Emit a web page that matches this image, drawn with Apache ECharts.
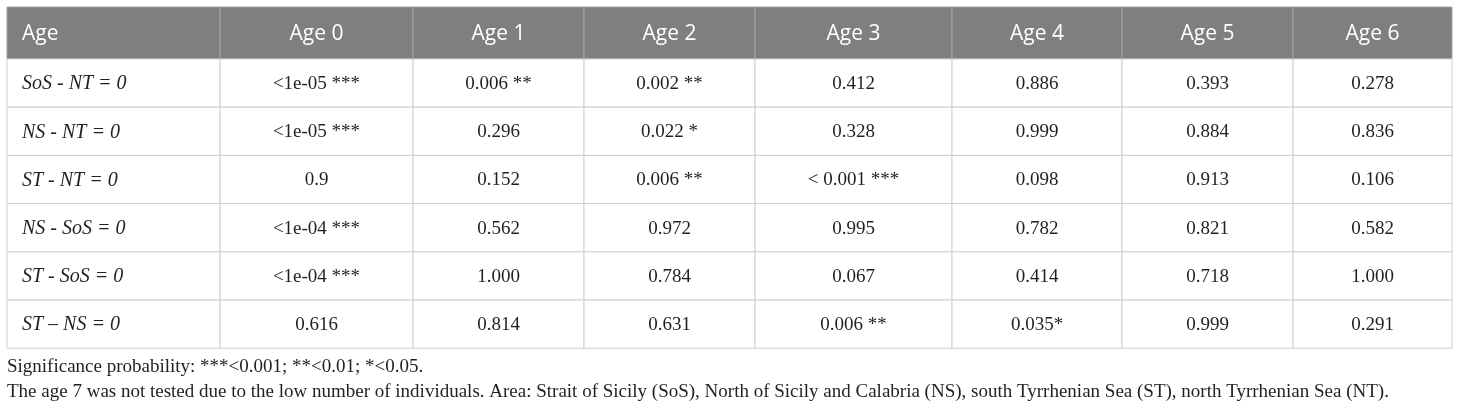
<!DOCTYPE html>
<html>
<head>
<meta charset="utf-8">
<title>Age comparison p-values</title>
<script src="https://cdn.jsdelivr.net/npm/echarts@6/dist/echarts.min.js"></script>
<style>
  html, body { margin: 0; padding: 0; background: #fff; }
  #main { width: 1460px; height: 411px; }
</style>
</head>
<body>
<div id="main"></div>
<script>
// table content
var ages = ['Age 0', 'Age 1', 'Age 2', 'Age 3', 'Age 4', 'Age 5', 'Age 6'];
var comparisons = ['SoS - NT = 0', 'NS - NT = 0', 'ST - NT = 0', 'NS - SoS = 0', 'ST - SoS = 0', 'ST \u2013 NS = 0'];
var age0 = ['<1e-05 ***', '<1e-05 ***', '0.9', '<1e-04 ***', '<1e-04 ***', '0.616'];
var age1 = ['0.006 **', '0.296', '0.152', '0.562', '1.000', '0.814'];
var age2 = ['0.002 **', '0.022 *', '0.006 **', '0.972', '0.784', '0.631'];
var age3 = ['0.412', '0.328', '< 0.001 ***', '0.995', '0.067', '0.006 **'];
var age4 = ['0.886', '0.999', '0.098', '0.782', '0.414', '0.035*'];
var age5 = ['0.393', '0.884', '0.913', '0.821', '0.718', '0.999'];
var age6 = ['0.278', '0.836', '0.106', '0.582', '1.000', '0.291'];
var footnotes = [
  'Significance probability: ***<0.001; **<0.01; *<0.05.',
  'The age 7 was not tested due to the low number of individuals. Area: Strait of Sicily (SoS), North of Sicily and Calabria (NS), south Tyrrhenian Sea (ST), north Tyrrhenian Sea (NT).'
];

// layout (widths / heights in axis units)
var colWidths = [213, 193, 171, 171, 197, 170, 171, 159];
var rowHeights = [52, 48.2, 48.2, 48.2, 48.2, 48.2, 48.2];

function edges(sizes) {
  var e = [0];
  for (var i = 0; i < sizes.length; i++) e.push(e[i] + sizes[i]);
  return e;
}
var colEdges = edges(colWidths);
var rowEdges = edges(rowHeights);

// build cells: [col, row, text]
var valueCols = [age0, age1, age2, age3, age4, age5, age6];
var cells = [[0, 0, 'Age']];
ages.forEach(function (a, c) { cells.push([c + 1, 0, a]); });
comparisons.forEach(function (name, r) {
  cells.push([0, r + 1, name]);
  valueCols.forEach(function (col, c) { cells.push([c + 1, r + 1, col[r]]); });
});

var myChart = echarts.init(document.getElementById('main'), null, { renderer: 'canvas' });

var option = {
  animation: false,
  title: {
    text: footnotes.join('\n'),
    left: 7,
    top: 355,
    padding: 0,
    textStyle: {
      fontFamily: 'Liberation Serif',
      fontWeight: 'normal',
      fontSize: 19,
      lineHeight: 25,
      color: '#231f20'
    }
  },
  grid: { left: 7, top: 7, width: colEdges[colEdges.length - 1], height: rowEdges[rowEdges.length - 1] },
  xAxis: { type: 'value', min: 0, max: colEdges[colEdges.length - 1], show: false },
  yAxis: { type: 'value', min: 0, max: rowEdges[rowEdges.length - 1], inverse: true, show: false },
  series: [{
    type: 'custom',
    data: cells.map(function (d) { return [d[0], d[1]]; }),
    renderItem: function (params, api) {
      var col = api.value(0), row = api.value(1);
      var text = cells[params.dataIndex][2];
      var p0 = api.coord([colEdges[col], rowEdges[row]]);
      var p1 = api.coord([colEdges[col + 1], rowEdges[row + 1]]);
      var w = p1[0] - p0[0], h = p1[1] - p0[1];
      var header = row === 0;
      var leftAlign = col === 0;
      return {
        type: 'group',
        children: [{
          type: 'rect',
          shape: { x: p0[0], y: p0[1], width: w, height: h },
          style: {
            fill: header ? '#7f7f7f' : '#ffffff',
            stroke: header ? '#a3a3a3' : '#cfcfcf',
            lineWidth: 1
          }
        }, {
          type: 'text',
          style: {
            x: leftAlign ? p0[0] + 15 : p0[0] + w / 2,
            y: p0[1] + h / 2 + (header ? 1.5 : 1),
            text: text,
            align: leftAlign ? 'left' : 'center',
            verticalAlign: 'middle',
            fill: header ? '#ffffff' : '#231f20',
            fontFamily: header ? 'Open Sans' : 'Liberation Serif',
            fontStyle: (!header && leftAlign) ? 'italic' : 'normal',
            fontSize: header ? 21 : (leftAlign ? 20 : 19)
          }
        }]
      };
    }
  }]
};

myChart.setOption(option);
</script>
</body>
</html>
